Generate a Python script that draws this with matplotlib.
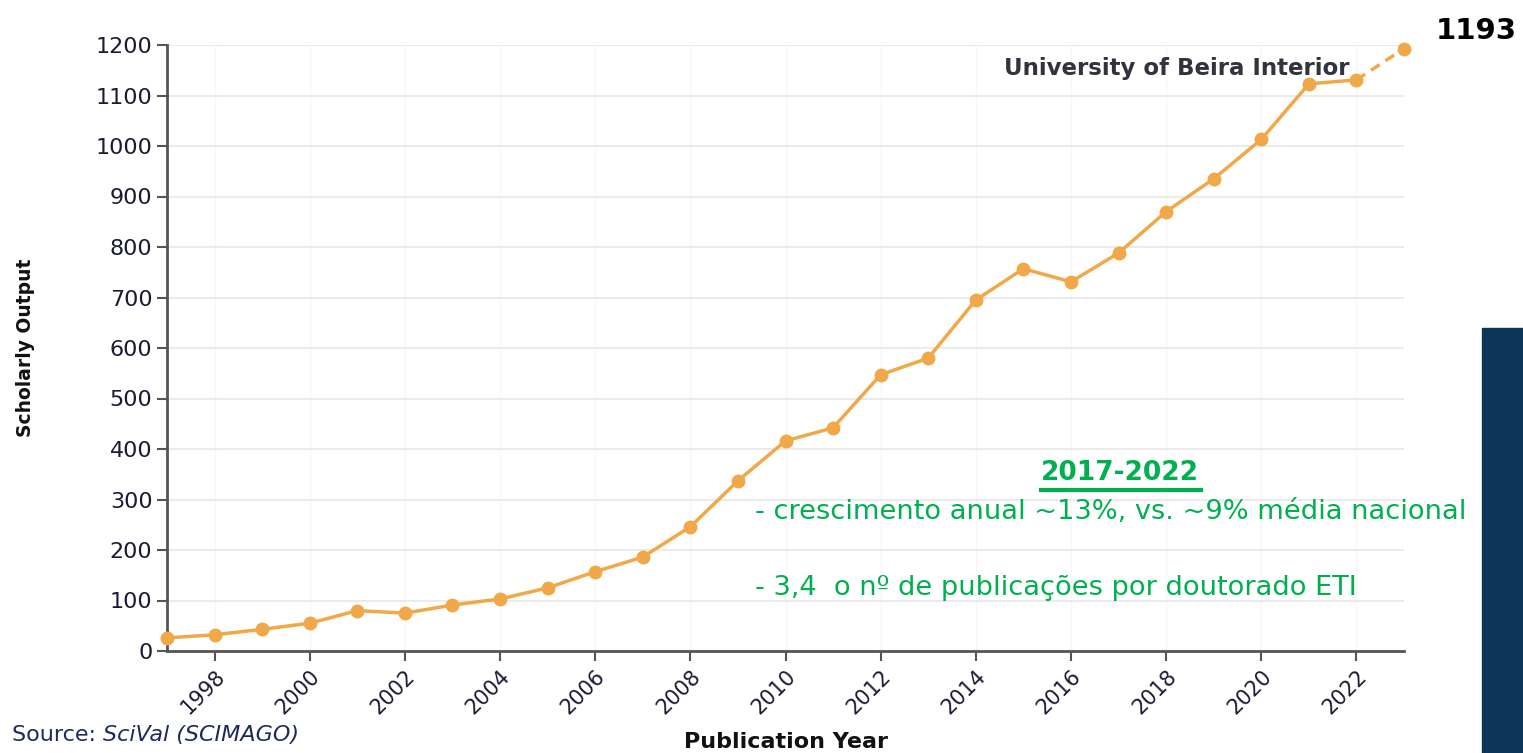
import matplotlib
matplotlib.use("Agg")
import matplotlib.pyplot as plt
from matplotlib.patches import Rectangle

years = list(range(1997, 2024))
output = [26, 32, 43, 55, 80, 75, 91, 103, 125, 157, 186, 246, 337, 416, 442,
          547, 580, 695, 757, 731, 788, 870, 935, 1013, 1123, 1131, 1193]
xticks = list(range(1998, 2023, 2))
yticks = list(range(0, 1201, 100))

orange = "#f0a848"
green = "#00b050"
navy = "#1f2a5a"

fig = plt.figure(figsize=(15.23, 7.53), dpi=100)
ax = fig.add_axes([167/1523, 1-651/753, (1404-167)/1523, (651-45)/753])

ax.plot(years[:-1], output[:-1], color=orange, lw=2.5, marker="o", ms=9, zorder=3, clip_on=False)
ax.plot(years[-2:], output[-2:], color=orange, lw=2.5, ls=(0, (3, 2)), zorder=3, clip_on=False)
ax.plot(years[-1:], output[-1:], color=orange, marker="o", ms=9, zorder=3, clip_on=False)

ax.set_xlim(1997, 2023)
ax.set_ylim(0, 1200)
ax.set_xticks(xticks)
ax.set_xticklabels([str(x) for x in xticks], rotation=45, ha="right", rotation_mode="anchor",
                   fontsize=15, color="#1a1a33")
ax.set_yticks(yticks)
ax.set_yticklabels([str(y) for y in yticks], fontsize=16, color="#1a1a33")
ax.tick_params(axis="both", length=7, width=1.5, color="#555555")
ax.tick_params(axis="x", pad=4)
for s in ["top", "right"]:
    ax.spines[s].set_visible(False)
for s in ["left", "bottom"]:
    ax.spines[s].set_color("#555555")
    ax.spines[s].set_linewidth(2)
ax.grid(axis="y", color="#ebebeb", lw=1.5)
ax.grid(axis="x", color="#f7f7f7", lw=1)
ax.set_axisbelow(True)

ax.set_ylabel("Scholarly Output", fontsize=13.5, fontweight="bold", color="#111111")
ax.yaxis.set_label_coords(-0.107, 0.5)
fig.text(786/1523, 1-742/753, "Publication Year", fontsize=16, fontweight="bold", color="#111111",
         ha="center", va="center")

fig.text(1350/1523, 1-68/753, "University of Beira Interior", fontsize=16.5, fontweight="bold",
         color="#333340", ha="right", va="center")
fig.text(1517/1523, 1-31/753, "1193", fontsize=21, fontweight="bold", color="black",
         ha="right", va="center")

fig.text(1120/1523, 1-473/753, "2017-2022", fontsize=19, fontweight="bold", color=green,
         ha="center", va="center")
fig.add_artist(plt.Line2D([1041/1523, 1201/1523], [1-490/753, 1-490/753], color=green, lw=3))
fig.text(755/1523, 1-512/753, "- crescimento anual ~13%, vs. ~9% média nacional", fontsize=19.6,
         color=green, ha="left", va="center")
fig.text(755/1523, 1-588/753, "- 3,4  o nº de publicações por doutorado ETI", fontsize=19.6,
         color=green, ha="left", va="center")

src = fig.text(12/1523, 1-735/753, "Source: ", fontsize=16, color=navy, ha="left", va="center")
fig.canvas.draw()
bb = src.get_window_extent()
fig.text(bb.x1/1523, 1-735/753, "SciVal (SCIMAGO)", fontsize=16, color=navy, ha="left", va="center",
         style="italic")

fig.add_artist(Rectangle((1482/1523, 0), 41/1523, 1-328/753, transform=fig.transFigure,
                         color="#0d3559", zorder=0))

fig.savefig("out.png", dpi=100)
